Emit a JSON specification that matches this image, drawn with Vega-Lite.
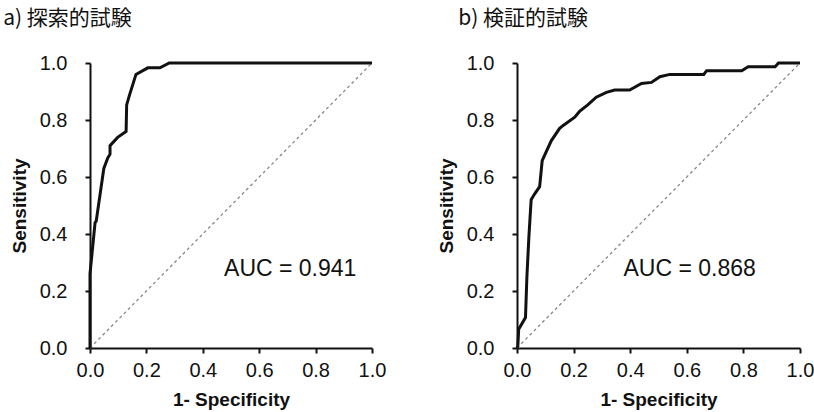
{
  "$schema": "https://vega.github.io/schema/vega-lite/v6.json",
  "padding": {"left": 3, "top": 8, "right": 5, "bottom": 5},
  "spacing": 51,
  "background": "white",
  "config": {
    "view": {"stroke": null},
    "font": "Liberation Sans",
    "axis": {
      "grid": false,
      "domainColor": "#111",
      "domainWidth": 2,
      "tickColor": "#111",
      "tickWidth": 2,
      "tickSize": 5,
      "labelFont": "Liberation Sans",
      "labelFontSize": 20,
      "labelColor": "#111",
      "labelFlush": false,
      "labelOverlap": false,
      "titleFont": "Liberation Sans",
      "titleFontSize": 19,
      "titleFontWeight": "bold",
      "titleColor": "#111"
    },
    "axisX": {"labelPadding": 7, "titlePadding": 10},
    "axisY": {"labelPadding": 18, "titlePadding": 10},
    "title": {"font": "Noto Sans CJK JP", "fontSize": 21, "fontWeight": "normal", "color": "#111", "anchor": "start", "frame": "bounds", "offset": 24}
  },
  "datasets": {
    "diag": [{"x": 0, "y": 0}, {"x": 1, "y": 1}],
    "roc_a": [
      {"i": 0, "fpr": 0, "tpr": 0},
      {"i": 1, "fpr": 0, "tpr": 0.26},
      {"i": 2, "fpr": 0.018, "tpr": 0.44},
      {"i": 3, "fpr": 0.022, "tpr": 0.445},
      {"i": 4, "fpr": 0.049, "tpr": 0.63},
      {"i": 5, "fpr": 0.063, "tpr": 0.667},
      {"i": 6, "fpr": 0.071, "tpr": 0.68},
      {"i": 7, "fpr": 0.071, "tpr": 0.71},
      {"i": 8, "fpr": 0.098, "tpr": 0.739},
      {"i": 9, "fpr": 0.128, "tpr": 0.76},
      {"i": 10, "fpr": 0.13, "tpr": 0.853},
      {"i": 11, "fpr": 0.14, "tpr": 0.887},
      {"i": 12, "fpr": 0.163, "tpr": 0.96},
      {"i": 13, "fpr": 0.205, "tpr": 0.983},
      {"i": 14, "fpr": 0.248, "tpr": 0.983},
      {"i": 15, "fpr": 0.281, "tpr": 1.0},
      {"i": 16, "fpr": 1.0, "tpr": 1.0}
    ],
    "roc_b": [
      {"i": 0, "fpr": 0, "tpr": 0},
      {"i": 1, "fpr": 0.003, "tpr": 0.007},
      {"i": 2, "fpr": 0.006, "tpr": 0.066},
      {"i": 3, "fpr": 0.03, "tpr": 0.107},
      {"i": 4, "fpr": 0.035, "tpr": 0.25},
      {"i": 5, "fpr": 0.042, "tpr": 0.39},
      {"i": 6, "fpr": 0.05, "tpr": 0.52},
      {"i": 7, "fpr": 0.062, "tpr": 0.54},
      {"i": 8, "fpr": 0.08, "tpr": 0.566},
      {"i": 9, "fpr": 0.089, "tpr": 0.657},
      {"i": 10, "fpr": 0.097, "tpr": 0.675},
      {"i": 11, "fpr": 0.121, "tpr": 0.727},
      {"i": 12, "fpr": 0.15, "tpr": 0.77},
      {"i": 13, "fpr": 0.162, "tpr": 0.78},
      {"i": 14, "fpr": 0.204, "tpr": 0.81},
      {"i": 15, "fpr": 0.221, "tpr": 0.83},
      {"i": 16, "fpr": 0.25, "tpr": 0.853},
      {"i": 17, "fpr": 0.28, "tpr": 0.88},
      {"i": 18, "fpr": 0.316, "tpr": 0.897},
      {"i": 19, "fpr": 0.345, "tpr": 0.905},
      {"i": 20, "fpr": 0.398, "tpr": 0.905},
      {"i": 21, "fpr": 0.44, "tpr": 0.928},
      {"i": 22, "fpr": 0.475, "tpr": 0.932},
      {"i": 23, "fpr": 0.505, "tpr": 0.952},
      {"i": 24, "fpr": 0.54, "tpr": 0.96},
      {"i": 25, "fpr": 0.66, "tpr": 0.96},
      {"i": 26, "fpr": 0.67, "tpr": 0.973},
      {"i": 27, "fpr": 0.794, "tpr": 0.973},
      {"i": 28, "fpr": 0.817, "tpr": 0.987},
      {"i": 29, "fpr": 0.912, "tpr": 0.987},
      {"i": 30, "fpr": 0.924, "tpr": 1.0},
      {"i": 31, "fpr": 1.0, "tpr": 1.0}
    ]
  },
  "hconcat": [
    {
      "title": {"text": "a) 探索的試験", "dx": -7},
      "width": 282,
      "height": 285,
      "layer": [
        {
          "data": {"name": "diag"},
          "mark": {"type": "line", "stroke": "#888", "strokeWidth": 1.3, "strokeDash": [3, 3]},
          "encoding": {
            "x": {"field": "x", "type": "quantitative", "scale": {"domain": [0, 1], "nice": false}, "title": "1- Specificity", "axis": {"values": [0, 0.2, 0.4, 0.6, 0.8, 1.0], "format": ".1f"}},
            "y": {"field": "y", "type": "quantitative", "scale": {"domain": [0, 1], "nice": false}, "title": "Sensitivity", "axis": {"values": [0, 0.2, 0.4, 0.6, 0.8, 1.0], "format": ".1f"}}
          }
        },
        {
          "data": {"name": "roc_a"},
          "mark": {"type": "line", "stroke": "#111", "strokeWidth": 3, "strokeJoin": "miter"},
          "encoding": {
            "x": {"field": "fpr", "type": "quantitative"},
            "y": {"field": "tpr", "type": "quantitative"},
            "order": {"field": "i", "type": "quantitative"}
          }
        },
        {
          "data": {"values": [{"x": 0.71, "y": 0.276, "label": "AUC = 0.941"}]},
          "mark": {"type": "text", "fontSize": 23, "font": "Liberation Sans", "color": "#111", "align": "center", "baseline": "middle"},
          "encoding": {
            "x": {"field": "x", "type": "quantitative"},
            "y": {"field": "y", "type": "quantitative"},
            "text": {"field": "label"}
          }
        }
      ]
    },
    {
      "title": {"text": "b) 検証的試験", "dx": 21},
      "width": 283,
      "height": 285,
      "layer": [
        {
          "data": {"name": "diag"},
          "mark": {"type": "line", "stroke": "#888", "strokeWidth": 1.3, "strokeDash": [3, 3]},
          "encoding": {
            "x": {"field": "x", "type": "quantitative", "scale": {"domain": [0, 1], "nice": false}, "title": "1- Specificity", "axis": {"values": [0, 0.2, 0.4, 0.6, 0.8, 1.0], "format": ".1f"}},
            "y": {"field": "y", "type": "quantitative", "scale": {"domain": [0, 1], "nice": false}, "title": "Sensitivity", "axis": {"values": [0, 0.2, 0.4, 0.6, 0.8, 1.0], "format": ".1f"}}
          }
        },
        {
          "data": {"name": "roc_b"},
          "mark": {"type": "line", "stroke": "#111", "strokeWidth": 3, "strokeJoin": "miter"},
          "encoding": {
            "x": {"field": "fpr", "type": "quantitative"},
            "y": {"field": "tpr", "type": "quantitative"},
            "order": {"field": "i", "type": "quantitative"}
          }
        },
        {
          "data": {"values": [{"x": 0.61, "y": 0.276, "label": "AUC = 0.868"}]},
          "mark": {"type": "text", "fontSize": 23, "font": "Liberation Sans", "color": "#111", "align": "center", "baseline": "middle"},
          "encoding": {
            "x": {"field": "x", "type": "quantitative"},
            "y": {"field": "y", "type": "quantitative"},
            "text": {"field": "label"}
          }
        }
      ]
    }
  ]
}
